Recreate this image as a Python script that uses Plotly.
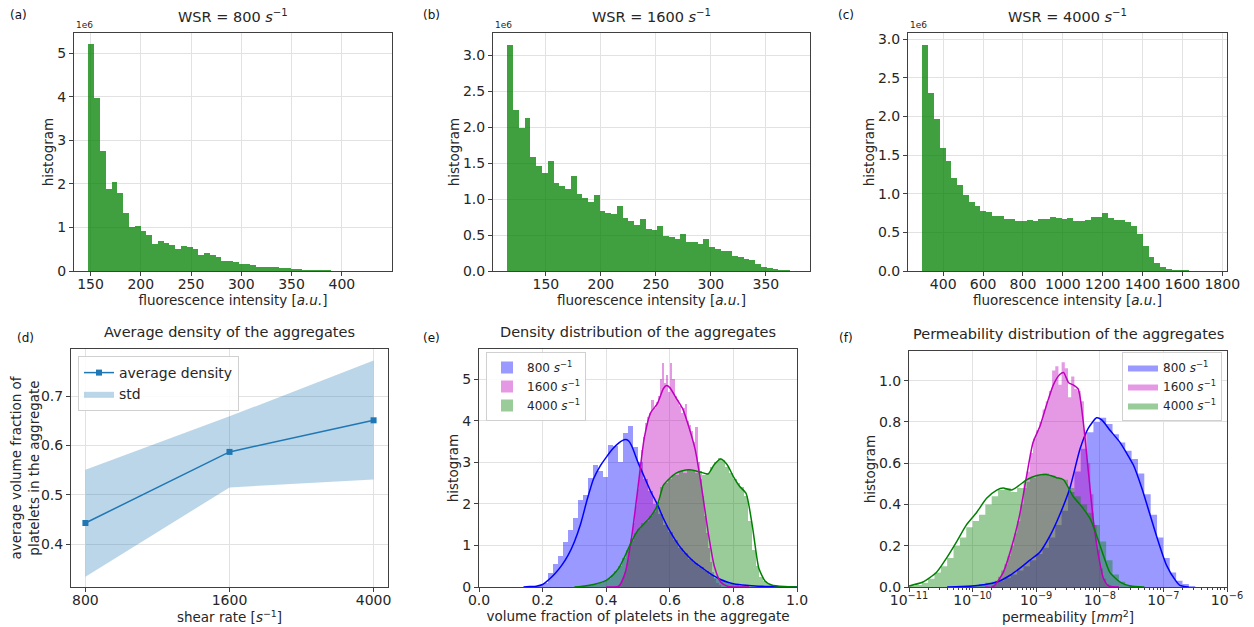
import plotly.graph_objects as go

# ---------------- data ----------------
# (a)-(c): fluorescence histograms, counts in units of 1e6
a_bin_start, a_bin_width = 148.0, 5.75
a_counts = [5.2, 3.96, 2.75, 1.89, 2.04, 1.78, 1.33, 1.0, 1.04, 0.92, 0.82, 0.62, 0.68, 0.64, 0.6,
            0.5, 0.58, 0.55, 0.5, 0.37, 0.41, 0.37, 0.32, 0.24, 0.24, 0.2, 0.16, 0.16, 0.14, 0.1,
            0.09, 0.09, 0.085, 0.06, 0.07, 0.05, 0.04, 0.025, 0.02, 0.018, 0.015, 0.012, 0.01,
            0.008, 0.005, 0.004, 0.003, 0.002, 0.002, 0.001]

b_bin_start, b_bin_width = 115.0, 5.24
b_counts = [3.15, 2.24, 1.99, 2.13, 1.58, 1.46, 1.36, 1.53, 1.22, 1.18, 1.14, 1.32, 1.07, 1.02, 0.96,
            1.06, 0.83, 0.80, 0.79, 0.91, 0.74, 0.70, 0.64, 0.73, 0.59, 0.565, 0.63, 0.49, 0.47, 0.45,
            0.51, 0.41, 0.40, 0.38, 0.44, 0.34, 0.31, 0.28, 0.28, 0.21, 0.19, 0.17, 0.15, 0.10, 0.06,
            0.04, 0.025, 0.015, 0.01, 0.005]

c_bin_start, c_bin_width = 296.0, 29.1
c_counts = [2.93, 2.30, 1.97, 1.59, 1.42, 1.21, 1.11, 0.98, 0.89, 0.84, 0.78, 0.76, 0.71, 0.71, 0.67,
            0.67, 0.65, 0.65, 0.66, 0.645, 0.675, 0.67, 0.70, 0.685, 0.67, 0.68, 0.65, 0.65, 0.66, 0.70,
            0.70, 0.745, 0.69, 0.66, 0.655, 0.63, 0.58, 0.48, 0.33, 0.18, 0.10, 0.05, 0.02, 0.013, 0.01,
            0.008, 0.004, 0.003, 0.002, 0.001]

# (d): average density vs shear rate
shear_labels = ["800", "1600", "4000"]
avg_density = [0.443, 0.587, 0.651]
std_upper = [0.551, 0.659, 0.772]
std_lower = [0.334, 0.515, 0.531]

# (e): density distributions (histogram bins + kde curves)
e800_start, e800_width = 0.153, 0.0158
e800_counts = [0.0, 0.02, 0.04, 0.1, 0.34, 0.56, 0.75, 1.09, 1.37, 1.65, 2.09, 2.21, 2.62, 2.94, 2.8,
               2.66, 3.42, 3.4, 3.0, 3.7, 3.88, 3.38, 3.0, 2.6, 2.3, 2.0, 1.75, 1.5, 1.32, 1.12, 0.95,
               0.82, 0.68, 0.57, 0.47, 0.38, 0.3, 0.22, 0.16, 0.12, 0.08, 0.05, 0.03, 0.02]
e1600_start, e1600_width = 0.43, 0.0066
e1600_counts = [0.02, 0.05, 0.1, 0.2, 0.35, 0.55, 0.85, 1.15, 1.55, 1.95, 2.35, 2.8, 3.3, 3.6, 3.95,
                4.1, 4.2, 4.5, 4.3, 4.45, 4.6, 5.0, 5.4, 4.9, 5.1, 4.7, 5.4, 5.0, 4.6, 4.5, 4.35, 4.2,
                4.3, 4.4, 4.0, 3.9, 3.75, 3.5, 3.85, 3.0, 2.6, 2.2, 1.7, 1.3, 0.95, 0.6, 0.35, 0.2,
                0.1, 0.04]
e4000_start, e4000_width = 0.33, 0.012
e4000_counts = [0.02, 0.03, 0.05, 0.08, 0.1, 0.15, 0.2, 0.28, 0.38, 0.5, 0.7, 0.9, 1.1, 1.3, 1.4,
                1.55, 1.6, 1.7, 1.8, 2.05, 2.4, 2.5, 2.6, 2.7, 2.7, 2.8, 2.75, 2.85, 2.8, 2.75, 2.8,
                2.7, 2.75, 2.9, 3.0, 3.1, 3.05, 2.9, 2.75, 2.6, 2.5, 2.4, 2.2, 1.6, 0.9, 0.5, 0.25,
                0.15, 0.08, 0.05, 0.03, 0.02]

kde_e800_x = [0.14, 0.16, 0.18, 0.20, 0.22, 0.24, 0.26, 0.28, 0.30, 0.32, 0.34, 0.36, 0.38, 0.40, 0.42,
              0.44, 0.46, 0.47, 0.48, 0.50, 0.52, 0.54, 0.56, 0.58, 0.60, 0.62, 0.64, 0.66, 0.68, 0.70,
              0.72, 0.74, 0.76, 0.78, 0.80, 0.84, 0.88, 0.92, 0.96, 1.0]
kde_e800_y = [0, 0.01, 0.02, 0.06, 0.18, 0.33, 0.52, 0.76, 1.09, 1.53, 2.1, 2.6, 2.9, 3.12, 3.32,
              3.47, 3.55, 3.52, 3.4, 3.0, 2.65, 2.3, 2.0, 1.65, 1.35, 1.1, 0.89, 0.72, 0.58, 0.47,
              0.36, 0.26, 0.18, 0.12, 0.08, 0.04, 0.02, 0.01, 0.005, 0]
kde_e1600_x = [0.40, 0.42, 0.44, 0.46, 0.48, 0.50, 0.52, 0.54, 0.56, 0.58, 0.59, 0.60, 0.62, 0.64,
               0.66, 0.68, 0.70, 0.72, 0.74, 0.76, 0.78, 0.80, 0.85]
kde_e1600_y = [0, 0.0, 0.02, 0.35, 1.2, 2.4, 3.6, 4.2, 4.4, 4.78, 4.85, 4.8, 4.55, 4.3, 3.85, 3.3,
               2.4, 1.35, 0.5, 0.12, 0.02, 0, 0]
kde_e4000_x = [0.30, 0.32, 0.36, 0.40, 0.42, 0.44, 0.46, 0.48, 0.50, 0.52, 0.54, 0.56, 0.58, 0.60,
               0.62, 0.64, 0.66, 0.68, 0.70, 0.72, 0.74, 0.76, 0.78, 0.80, 0.82, 0.84, 0.86, 0.88,
               0.90, 0.92, 0.96, 1.0]
kde_e4000_y = [0, 0.01, 0.06, 0.16, 0.28, 0.46, 0.76, 1.1, 1.37, 1.53, 1.7, 1.95, 2.45, 2.62, 2.74,
               2.8, 2.82, 2.8, 2.76, 2.72, 2.95, 3.08, 2.95, 2.66, 2.42, 2.25, 1.45, 0.45, 0.14,
               0.05, 0.01, 0]

# (f): permeability distributions, bins in log10(mm^2)
f800_start, f800_width = -10.4, 0.1
f800_counts = [0.0, 0.005, 0.005, 0.008, 0.01, 0.015, 0.02, 0.025, 0.03, 0.045, 0.06, 0.08, 0.1, 0.13,
               0.16, 0.19, 0.24, 0.3, 0.37, 0.46, 0.56, 0.67, 0.75, 0.8, 0.82, 0.79, 0.74, 0.7, 0.66,
               0.62, 0.55, 0.45, 0.35, 0.24, 0.14, 0.07, 0.03, 0.015, 0.005]
f1600_start, f1600_width = -9.7, 0.05
f1600_counts = [0.01, 0.03, 0.05, 0.08, 0.11, 0.15, 0.2, 0.26, 0.32, 0.4, 0.48, 0.56, 0.65, 0.72,
                0.76, 0.8, 0.86, 0.9, 0.95, 1.05, 1.07, 0.98, 1.09, 1.06, 0.92, 1.02, 0.96, 0.95, 0.9,
                0.75, 0.6, 0.45, 0.3, 0.18, 0.09, 0.04, 0.015]
f4000_start, f4000_width = -11.0, 0.1
f4000_counts = [0.005, 0.01, 0.02, 0.04, 0.07, 0.1, 0.14, 0.2, 0.24, 0.29, 0.32, 0.35, 0.4, 0.44, 0.47,
                0.48, 0.46, 0.48, 0.51, 0.53, 0.54, 0.55, 0.54, 0.53, 0.52, 0.48, 0.44, 0.4, 0.36,
                0.3, 0.22, 0.13, 0.06, 0.025, 0.01]

kde_f800_lx = [-10.4, -10.0, -9.8, -9.62, -9.41, -9.26, -9.1, -8.94, -8.78, -8.63, -8.47, -8.31, -8.18,
               -8.05, -7.97, -7.84, -7.68, -7.58, -7.47, -7.34, -7.21, -7.08, -6.95, -6.81, -6.74, -6.6]
kde_f800_y = [0, 0.005, 0.012, 0.024, 0.057, 0.09, 0.13, 0.17, 0.25, 0.35, 0.48, 0.67, 0.77, 0.82,
              0.81, 0.76, 0.70, 0.65, 0.59, 0.48, 0.35, 0.22, 0.105, 0.032, 0.008, 0]
kde_f1600_lx = [-9.8, -9.68, -9.52, -9.39, -9.26, -9.15, -9.05, -8.94, -8.84, -8.73, -8.63, -8.57,
                -8.49, -8.42, -8.34, -8.26, -8.18, -8.1, -8.02, -7.94, -7.86, -7.7]
kde_f1600_y = [0, 0.0, 0.07, 0.19, 0.35, 0.54, 0.70, 0.78, 0.88, 0.98, 1.03, 1.04, 0.99, 0.98, 0.96,
               0.80, 0.56, 0.32, 0.15, 0.04, 0.005, 0]
kde_f4000_lx = [-11.0, -10.78, -10.57, -10.41, -10.25, -10.1, -9.94, -9.78, -9.62, -9.52, -9.39, -9.28,
                -9.15, -8.99, -8.84, -8.68, -8.57, -8.42, -8.26, -8.15, -8.05, -7.94, -7.84, -7.68,
                -7.52, -7.3]
kde_f4000_y = [0.005, 0.024, 0.07, 0.14, 0.22, 0.30, 0.36, 0.43, 0.47, 0.48, 0.47, 0.49, 0.52, 0.54,
               0.545, 0.53, 0.52, 0.44, 0.38, 0.33, 0.25, 0.15, 0.07, 0.024, 0.005, 0]

legend_labels = ["800 <i>s</i><sup>−1</sup>", "1600 <i>s</i><sup>−1</sup>", "4000 <i>s</i><sup>−1</sup>"]

# ---------------- layout helpers ----------------
# the page body keeps an 8 px margin, so the figure is drawn 8 px smaller and offset
OFF = 8
W, H = 1254 - OFF, 627 - OFF
FONT = "DejaVu Sans"
TXT = "#262626"


def px2x(px):
    return (px - OFF) / W


def py2y(py):
    return 1 - (py - OFF) / H


boxes = {
    1: ((74, 392), (33, 271)),
    2: ((493, 810), (33, 271)),
    3: ((908, 1227), (33, 271)),
    4: ((71, 388), (349, 587)),
    5: ((479, 797), (349, 587)),
    6: ((909, 1227), (351, 587)),
}


def centers(start, width, n):
    return [start + (i + 0.5) * width for i in range(n)]


def outline(start, width, counts):
    xs, ys = [start], [0]
    for i, c in enumerate(counts):
        xs += [start + i * width, start + (i + 1) * width]
        ys += [c, c]
    xs.append(start + len(counts) * width)
    ys.append(0)
    return xs, ys


GREEN_BAR = "rgba(0,128,0,0.75)"
C_B, C_M, C_G = "#0000ff", "#bf00bf", "#008000"
F_B, F_M, F_G = "rgba(0,0,255,0.4)", "rgba(191,0,191,0.4)", "rgba(0,128,0,0.4)"

fig = go.Figure()

# (a)-(c)
for k, (st, wd, cnt) in enumerate([(a_bin_start, a_bin_width, a_counts),
                                     (b_bin_start, b_bin_width, b_counts),
                                     (c_bin_start, c_bin_width, c_counts)], start=1):
    fig.add_trace(go.Bar(x=centers(st, wd, len(cnt)), y=cnt, width=wd,
                         marker=dict(color=GREEN_BAR, line=dict(width=0)),
                         showlegend=False, xaxis=f"x{k}", yaxis=f"y{k}"))

# (d)
fig.add_trace(go.Scatter(x=[0, 1, 2], y=std_lower, mode="lines", line=dict(width=0),
                         showlegend=False, xaxis="x4", yaxis="y4", hoverinfo="skip"))
fig.add_trace(go.Scatter(x=[0, 1, 2], y=std_upper, mode="lines", line=dict(width=0),
                         fill="tonexty", fillcolor="rgba(31,119,180,0.3)", name="std",
                         legendrank=2, xaxis="x4", yaxis="y4", legend="legend"))
fig.add_trace(go.Scatter(x=[0, 1, 2], y=avg_density, mode="lines+markers",
                         line=dict(color="#1f77b4", width=1.5),
                         marker=dict(symbol="square", size=6, color="#1f77b4"),
                         name="average density", legendrank=1, xaxis="x4", yaxis="y4",
                         legend="legend"))

# (e)
for (st, wd, cnt, fc, lab) in [(e800_start, e800_width, e800_counts, F_B, legend_labels[0]),
                               (e1600_start, e1600_width, e1600_counts, F_M, legend_labels[1]),
                               (e4000_start, e4000_width, e4000_counts, F_G, legend_labels[2])]:
    fig.add_trace(go.Bar(x=centers(st, wd, len(cnt)), y=cnt, width=wd,
                         marker=dict(color=fc, line=dict(width=0)), name=lab,
                         xaxis="x5", yaxis="y5", legend="legend2"))
for (kx, ky, lc) in [(kde_e800_x, kde_e800_y, C_B), (kde_e1600_x, kde_e1600_y, C_M),
                     (kde_e4000_x, kde_e4000_y, C_G)]:
    fig.add_trace(go.Scatter(x=kx, y=ky, mode="lines", line=dict(color=lc, width=1.5, shape="spline",
                                                                 smoothing=0.6),
                             showlegend=False, xaxis="x5", yaxis="y5"))

# (f)
for (st, wd, cnt, fc, lab) in [(f800_start, f800_width, f800_counts, F_B, legend_labels[0]),
                               (f1600_start, f1600_width, f1600_counts, F_M, legend_labels[1]),
                               (f4000_start, f4000_width, f4000_counts, F_G, legend_labels[2])]:
    xs, ys = outline(st, wd, cnt)
    fig.add_trace(go.Scatter(x=[10 ** v for v in xs], y=ys, mode="lines", line=dict(width=0),
                             fill="tozeroy", fillcolor=fc, name=lab, xaxis="x6", yaxis="y6",
                             legend="legend3"))
for (kx, ky, lc) in [(kde_f800_lx, kde_f800_y, C_B), (kde_f1600_lx, kde_f1600_y, C_M),
                     (kde_f4000_lx, kde_f4000_y, C_G)]:
    fig.add_trace(go.Scatter(x=[10 ** v for v in kx], y=ky, mode="lines",
                             line=dict(color=lc, width=1.5, shape="spline", smoothing=0.6),
                             showlegend=False, xaxis="x6", yaxis="y6"))

# ---------------- axes ----------------
base = dict(showline=True, linecolor="#404040", linewidth=1, mirror=True, ticks="outside",
            ticklen=4, tickcolor="#404040", showgrid=True, gridcolor="#e2e2e2", gridwidth=1,
            zeroline=False, automargin=False,
            tickfont=dict(size=14, color=TXT), title_font=dict(size=13.5, color=TXT))

fluo_title = "fluorescence intensity [<i>a.u.</i>]"
axes = {
    1: (dict(range=[133.6, 449.9], tickvals=[150, 200, 250, 300, 350, 400], title=fluo_title),
        dict(range=[0, 5.46], tickvals=[0, 1, 2, 3, 4, 5], title="histogram")),
    2: (dict(range=[101.9, 390.1], tickvals=[150, 200, 250, 300, 350], title=fluo_title),
        dict(range=[0, 3.31], tickvals=[0, 0.5, 1, 1.5, 2, 2.5, 3], tickformat=".1f", title="histogram")),
    3: (dict(range=[223.3, 1823.8], tickvals=[400, 600, 800, 1000, 1200, 1400, 1600, 1800], title=fluo_title),
        dict(range=[0, 3.08], tickvals=[0, 0.5, 1, 1.5, 2, 2.5, 3], tickformat=".1f", title="histogram")),
    4: (dict(range=[-0.1, 2.1], tickvals=[0, 1, 2], ticktext=shear_labels,
             title="shear rate [<i>s</i><sup>−1</sup>]"),
        dict(range=[0.3133, 0.7955], tickvals=[0.4, 0.5, 0.6, 0.7], tickformat=".1f",
             title="average volume fraction of<br>platelets in the aggregate")),
    5: (dict(range=[0, 1], tickvals=[0, 0.2, 0.4, 0.6, 0.8, 1.0], tickformat=".1f",
             title="volume fraction of platelets in the aggregate"),
        dict(range=[0, 5.73], tickvals=[0, 1, 2, 3, 4, 5], title="histogram")),
    6: (dict(type="log", range=[-11, -6], tickvals=[1e-11, 1e-10, 1e-9, 1e-8, 1e-7, 1e-6],
             ticktext=["10<sup>−11</sup>", "10<sup>−10</sup>", "10<sup>−9</sup>", "10<sup>−8</sup>",
                       "10<sup>−7</sup>", "10<sup>−6</sup>"],
             minor=dict(tickmode="array",
                        tickvals=[m * 10.0 ** p for p in range(-11, -6) for m in range(2, 10)],
                        ticks="outside", ticklen=2, tickcolor="#404040", showgrid=False),
             title="permeability [<i>mm</i><sup>2</sup>]"),
        dict(range=[0, 1.144], tickvals=[0, 0.2, 0.4, 0.6, 0.8, 1.0], tickformat=".1f", title="histogram")),
}

layout_axes = {}
for k, (xa, ya) in axes.items():
    (xl, xr), (yt, yb) = boxes[k]
    xt = xa.pop("title")
    yt_ = ya.pop("title")
    xd = dict(base, domain=[px2x(xl), px2x(xr)], anchor=f"y{k}", ticklabelstandoff=-4,
              title=dict(text=xt, standoff=2), **xa)
    yd = dict(base, domain=[py2y(yb), py2y(yt)], anchor=f"x{k}",
              title=dict(text=yt_, standoff=0), **ya)
    layout_axes["xaxis" if k == 1 else f"xaxis{k}"] = xd
    layout_axes["yaxis" if k == 1 else f"yaxis{k}"] = yd

fig.update_layout(**layout_axes)

# ---------------- annotations (titles, panel labels, offsets) ----------------
ann = []
titles = {1: "WSR = 800 <i>s</i><sup>−1</sup>", 2: "WSR = 1600 <i>s</i><sup>−1</sup>",
          3: "WSR = 4000 <i>s</i><sup>−1</sup>", 4: "Average density of the aggregates",
          5: "Density distribution of the aggregates", 6: "Permeability distribution of the aggregates"}
for k, t in titles.items():
    (xl, xr), (yt, yb) = boxes[k]
    ann.append(dict(text=t, x=px2x((xl + xr) / 2), y=py2y(yt - 17), xref="paper", yref="paper",
                    xanchor="center", yanchor="middle", showarrow=False,
                    font=dict(size=14.5, color=TXT, family=FONT)))
labels = {"(a)": (8, 15), "(b)": (421, 15), "(c)": (836, 15),
          "(d)": (15, 338), "(e)": (421, 338), "(f)": (837, 338)}
for t, (px, py) in labels.items():
    ann.append(dict(text=t, x=px2x(px), y=py2y(py), xref="paper", yref="paper", xanchor="left",
                    yanchor="middle", showarrow=False, font=dict(size=12, color="#111", family=FONT)))
for k in (1, 2, 3):
    (xl, xr), (yt, yb) = boxes[k]
    ann.append(dict(text="1e6", x=px2x(xl), y=py2y(yt - 1), xref="paper", yref="paper",
                    xanchor="left", yanchor="bottom", showarrow=False,
                    font=dict(size=9, color=TXT, family=FONT)))

leg_common = dict(bgcolor="rgba(255,255,255,0.85)", bordercolor="#d0d0d0", borderwidth=1,
                  xref="paper", yref="paper", tracegroupgap=0)
fig.update_layout(
    width=W, height=H, margin=dict(l=0, r=0, t=0, b=0, autoexpand=False),
    paper_bgcolor="white", plot_bgcolor="white",
    font=dict(family=FONT, color=TXT),
    barmode="overlay", bargap=0,
    annotations=ann,
    legend=dict(leg_common, x=px2x(78), y=py2y(356), xanchor="left", yanchor="top",
                font=dict(size=14, color=TXT), traceorder="normal"),
    legend2=dict(leg_common, x=px2x(486), y=py2y(352), xanchor="left", yanchor="top",
                 font=dict(size=12, color=TXT)),
    legend3=dict(leg_common, x=px2x(1222), y=py2y(352), xanchor="right", yanchor="top",
                 font=dict(size=12, color=TXT)),
)

fig.write_html("out.html")
